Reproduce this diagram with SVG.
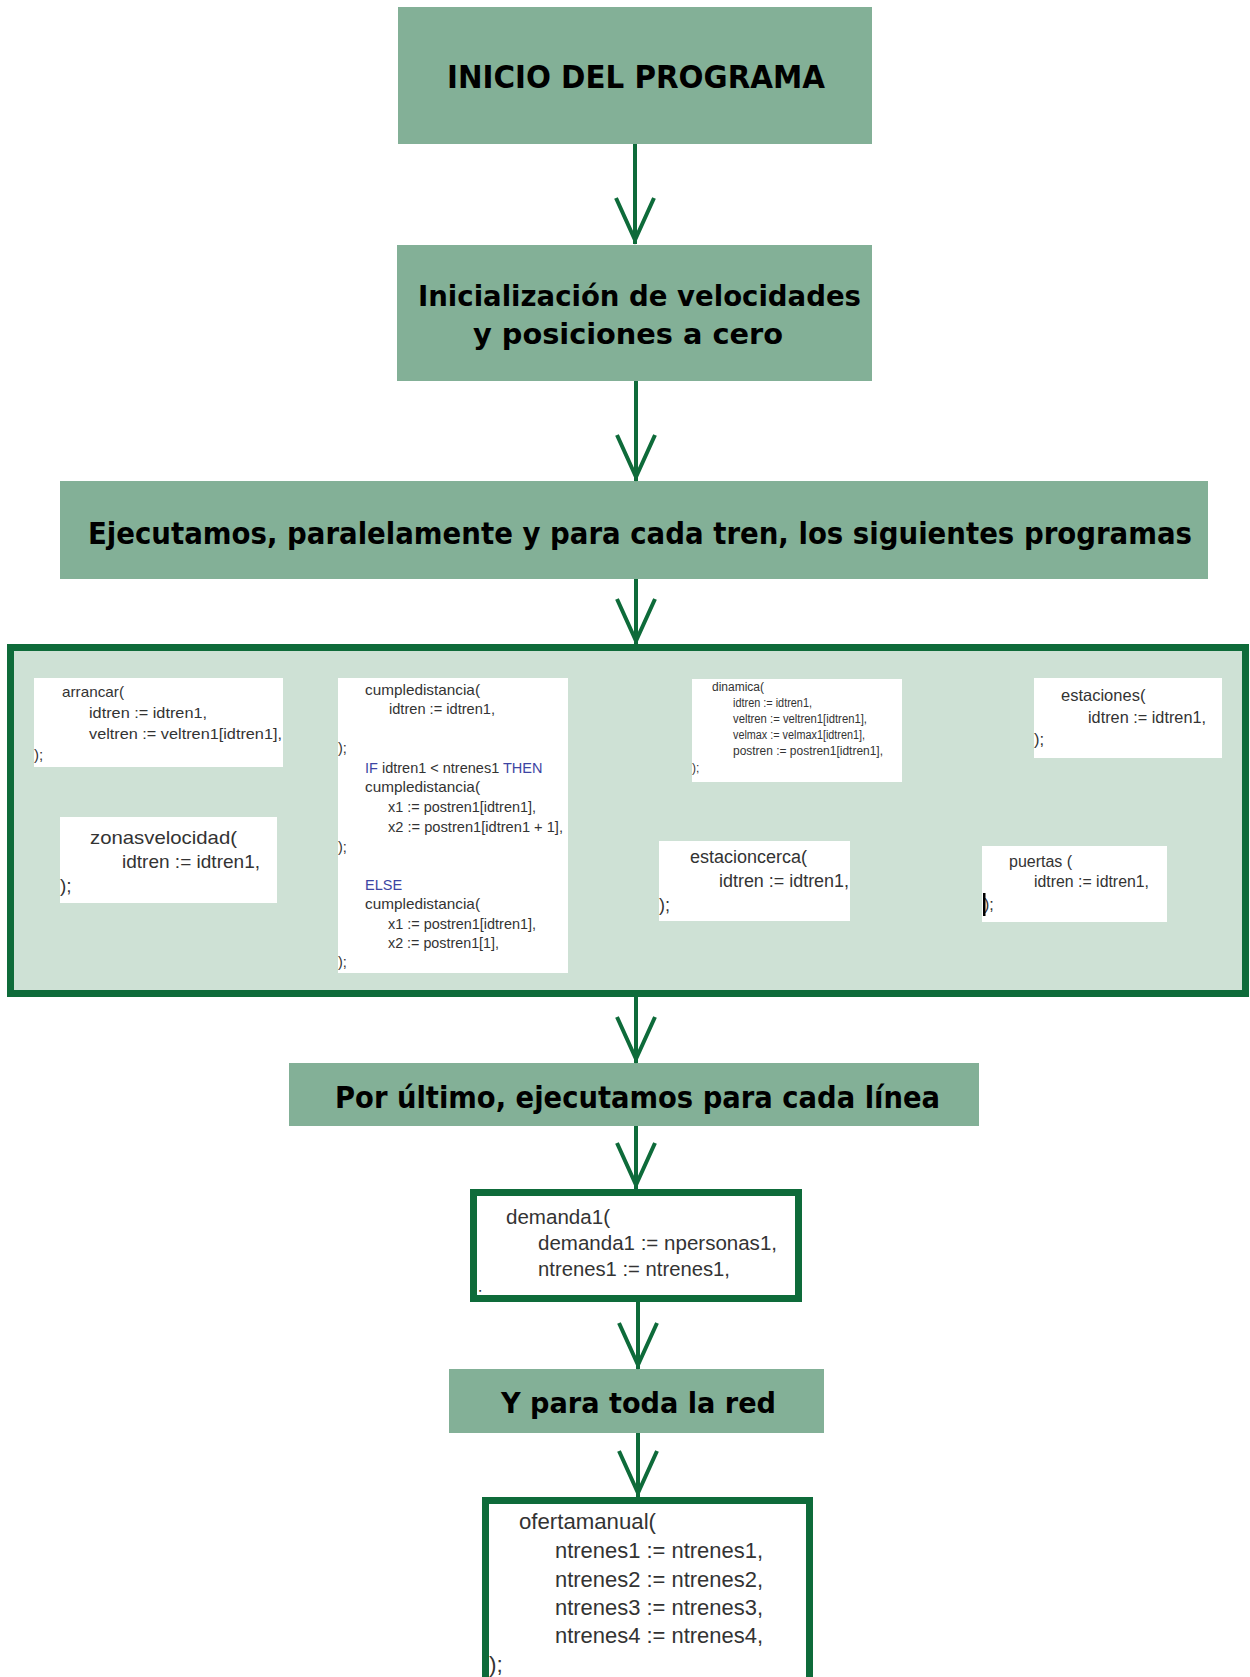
<svg xmlns="http://www.w3.org/2000/svg" width="1250" height="1677" viewBox="0 0 1250 1677">
<style>
.node{fill:#83b097;}
.h{font-family:"DejaVu Sans Condensed","DejaVu Sans",sans-serif;font-weight:bold;fill:#000;}
.code{font-family:"Liberation Sans",Arial,sans-serif;fill:#333;}
.kw{fill:#3d45a3;}
.snip{fill:#fff;}
.fill{fill:#fff;}
.frame{fill:none;stroke:#0e6b3a;stroke-width:7;}
.conn{stroke:#0e6b3a;stroke-width:4;fill:none;}
</style>
<defs>
<marker id="v" markerUnits="userSpaceOnUse" viewBox="-50 -25 56 50" markerWidth="56" markerHeight="50" refX="4" refY="0" orient="auto">
<path d="M-42,-19 L0,0 L-42,19" fill="none" stroke="#0e6b3a" stroke-width="4"/>
</marker>
</defs>
<rect width="1250" height="1677" fill="#fff"/>

<g id="inicio">
<rect class="node" x="398" y="7" width="474" height="137"/>
<text class="h" x="447" y="88" font-size="31.5" textLength="378" lengthAdjust="spacingAndGlyphs">INICIO DEL PROGRAMA</text>
</g>

<g id="inicializacion">
<rect class="node" x="397" y="245" width="475" height="136"/>
<text class="h" x="418" y="306" font-size="29" textLength="443" lengthAdjust="spacingAndGlyphs">Inicialización de velocidades</text>
<text class="h" x="473" y="344" font-size="29" textLength="310" lengthAdjust="spacingAndGlyphs">y posiciones a cero</text>
</g>

<g id="ejecutamos">
<rect class="node" x="60" y="481" width="1148" height="98"/>
<text class="h" x="88" y="544" font-size="30" textLength="1104" lengthAdjust="spacingAndGlyphs">Ejecutamos, paralelamente y para cada tren, los siguientes programas</text>
</g>

<g id="programas">
<rect x="10.5" y="647.5" width="1235" height="346" fill="#cee1d5" stroke="#0e6b3a" stroke-width="7"/>
</g>

<g id="arrancar">
<rect class="snip" x="34" y="678" width="249" height="89"/>
<text class="code" font-size="15">
<tspan x="62" y="697" textLength="62" lengthAdjust="spacingAndGlyphs">arrancar(</tspan>
<tspan x="89" y="718" textLength="118" lengthAdjust="spacingAndGlyphs">idtren := idtren1,</tspan>
<tspan x="89" y="739" textLength="193" lengthAdjust="spacingAndGlyphs">veltren := veltren1[idtren1],</tspan>
<tspan x="34" y="760">);</tspan>
</text>
</g>

<g id="zonasvelocidad">
<rect class="snip" x="60" y="817" width="217" height="86"/>
<text class="code" font-size="19">
<tspan x="90" y="844" textLength="147" lengthAdjust="spacingAndGlyphs">zonasvelocidad(</tspan>
<tspan x="122" y="868" textLength="138" lengthAdjust="spacingAndGlyphs">idtren := idtren1,</tspan>
<tspan x="60" y="892">);</tspan>
</text>
</g>

<g id="cumpledistancia">
<rect class="snip" x="338" y="678" width="230" height="295"/>
<text class="code" font-size="14.5">
<tspan x="365" y="695" textLength="115" lengthAdjust="spacingAndGlyphs">cumpledistancia(</tspan>
<tspan x="389" y="714" textLength="106" lengthAdjust="spacingAndGlyphs">idtren := idtren1,</tspan>
<tspan x="338" y="753">);</tspan>
<tspan x="365" y="773"><tspan class="kw">IF</tspan> idtren1 &lt; ntrenes1 <tspan class="kw">THEN</tspan></tspan>
<tspan x="365" y="792" textLength="115" lengthAdjust="spacingAndGlyphs">cumpledistancia(</tspan>
<tspan x="388" y="812" textLength="148" lengthAdjust="spacingAndGlyphs">x1 := postren1[idtren1],</tspan>
<tspan x="388" y="832" textLength="175" lengthAdjust="spacingAndGlyphs">x2 := postren1[idtren1 + 1],</tspan>
<tspan x="338" y="852">);</tspan>
<tspan x="365" y="890" class="kw">ELSE</tspan>
<tspan x="365" y="909" textLength="115" lengthAdjust="spacingAndGlyphs">cumpledistancia(</tspan>
<tspan x="388" y="929" textLength="148" lengthAdjust="spacingAndGlyphs">x1 := postren1[idtren1],</tspan>
<tspan x="388" y="948" textLength="111" lengthAdjust="spacingAndGlyphs">x2 := postren1[1],</tspan>
<tspan x="338" y="967">);</tspan>
</text>
</g>

<g id="dinamica">
<rect class="snip" x="692" y="679" width="210" height="103"/>
<text class="code" font-size="12">
<tspan x="712" y="691">dinamica(</tspan>
<tspan x="733" y="707" textLength="79" lengthAdjust="spacingAndGlyphs">idtren := idtren1,</tspan>
<tspan x="733" y="723" textLength="134" lengthAdjust="spacingAndGlyphs">veltren := veltren1[idtren1],</tspan>
<tspan x="733" y="739" textLength="132" lengthAdjust="spacingAndGlyphs">velmax := velmax1[idtren1],</tspan>
<tspan x="733" y="755" textLength="150" lengthAdjust="spacingAndGlyphs">postren := postren1[idtren1],</tspan>
<tspan x="692" y="772">);</tspan>
</text>
</g>

<g id="estaciones">
<rect class="snip" x="1034" y="678" width="188" height="80"/>
<text class="code" font-size="16.5">
<tspan x="1061" y="701">estaciones(</tspan>
<tspan x="1088" y="723" textLength="118" lengthAdjust="spacingAndGlyphs">idtren := idtren1,</tspan>
<tspan x="1034" y="745">);</tspan>
</text>
</g>

<g id="estacioncerca">
<rect class="snip" x="659" y="841" width="191" height="80"/>
<text class="code" font-size="18">
<tspan x="690" y="863">estacioncerca(</tspan>
<tspan x="719" y="887" textLength="130" lengthAdjust="spacingAndGlyphs">idtren := idtren1,</tspan>
<tspan x="659" y="911">);</tspan>
</text>
</g>

<g id="puertas">
<rect class="snip" x="982" y="846" width="185" height="76"/>
<text class="code" font-size="16">
<tspan x="1009" y="867">puertas (</tspan>
<tspan x="1034" y="887" textLength="115" lengthAdjust="spacingAndGlyphs">idtren := idtren1,</tspan>
<tspan x="984" y="910">);</tspan>
</text>
<rect x="983" y="893" width="2.5" height="23" fill="#000"/>
</g>

<g id="porultimo">
<rect class="node" x="289" y="1063" width="690" height="63"/>
<text class="h" x="335" y="1108" font-size="30.5" textLength="605" lengthAdjust="spacingAndGlyphs">Por último, ejecutamos para cada línea</text>
</g>

<g id="demanda1">
<rect class="fill" x="473.5" y="1192.5" width="325" height="106"/>
<text class="code" font-size="17" x="472" y="1299">);</text>
<text class="code" font-size="20.5">
<tspan x="506" y="1224" textLength="104" lengthAdjust="spacingAndGlyphs">demanda1(</tspan>
<tspan x="538" y="1250" textLength="239" lengthAdjust="spacingAndGlyphs">demanda1 := npersonas1,</tspan>
<tspan x="538" y="1276" textLength="192" lengthAdjust="spacingAndGlyphs">ntrenes1 := ntrenes1,</tspan>
</text>
<rect class="frame" x="473.5" y="1192.5" width="325" height="106"/>
</g>

<g id="redtotal">
<rect class="node" x="449" y="1369" width="375" height="64"/>
<text class="h" x="501" y="1413" font-size="28" textLength="275" lengthAdjust="spacingAndGlyphs">Y para toda la red</text>
</g>

<g id="ofertamanual">
<rect class="fill" x="485.5" y="1500.5" width="324" height="200"/>
<text class="code" font-size="22.5">
<tspan x="519" y="1529" textLength="137" lengthAdjust="spacingAndGlyphs">ofertamanual(</tspan>
<tspan x="555" y="1558" textLength="208" lengthAdjust="spacingAndGlyphs">ntrenes1 := ntrenes1,</tspan>
<tspan x="555" y="1587" textLength="208" lengthAdjust="spacingAndGlyphs">ntrenes2 := ntrenes2,</tspan>
<tspan x="555" y="1615" textLength="208" lengthAdjust="spacingAndGlyphs">ntrenes3 := ntrenes3,</tspan>
<tspan x="555" y="1643" textLength="208" lengthAdjust="spacingAndGlyphs">ntrenes4 := ntrenes4,</tspan>
<tspan x="489" y="1672">);</tspan>
</text>
<rect class="frame" x="485.5" y="1500.5" width="324" height="200"/>
</g>

<g id="connectors">
<path class="conn" d="M635,144 V244" marker-end="url(#v)"/>
<path class="conn" d="M636,381 V481" marker-end="url(#v)"/>
<path class="conn" d="M636,579 V645" marker-end="url(#v)"/>
<path class="conn" d="M636,997 V1063" marker-end="url(#v)"/>
<path class="conn" d="M636,1126 V1189" marker-end="url(#v)"/>
<path class="conn" d="M638,1302 V1369" marker-end="url(#v)"/>
<path class="conn" d="M638,1433 V1497" marker-end="url(#v)"/>
</g>
</svg>
